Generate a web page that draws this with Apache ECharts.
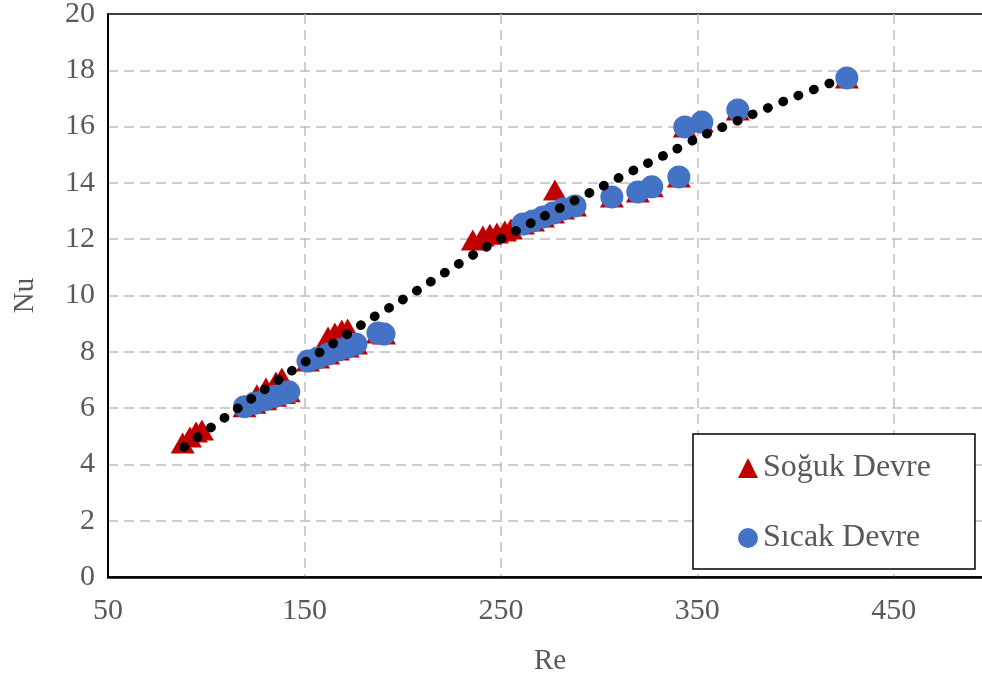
<!DOCTYPE html>
<html>
<head>
<meta charset="utf-8">
<script src="https://cdn.jsdelivr.net/npm/echarts@6/dist/echarts.min.js"></script>
<style>
  html, body { margin: 0; padding: 0; background: #fff; }
  #chart { width: 982px; height: 681px; }
</style>
</head>
<body>
<div id="chart"></div>
<script>
// Soğuk Devre (cold circuit) measurements
const coldRe = [88, 91.7, 94.8, 97.8, 125.8, 130.4, 135.5, 138.5, 162, 165.5, 169, 172,
  235.7, 240.8, 244.4, 248, 252, 255.1, 277.5,
  119.5, 124.5, 130, 135, 139.5, 142, 151.8, 156.9, 162, 167, 172, 176.2, 187.4, 190.5,
  261.2, 266.3, 271.4, 276.5, 281.6, 287.7, 306.5, 319.7, 326.8, 340.6, 343.6, 352.3, 370.6, 426.1];
const coldNu = [4.76, 4.97, 5.15, 5.22, 6.47, 6.71, 6.93, 7.07, 8.53, 8.67, 8.77, 8.81,
  11.97, 12.11, 12.18, 12.22, 12.29, 12.36, 13.75,
  6.05, 6.17, 6.3, 6.42, 6.52, 6.58, 7.67, 7.78, 7.92, 8.06, 8.17, 8.28, 8.67, 8.63,
  12.54, 12.65, 12.79, 12.93, 13.07, 13.18, 13.5, 13.68, 13.86, 14.21, 15.99, 16.16, 16.59, 17.73];

// Sıcak Devre (hot circuit) measurements
const hotRe = [119.5, 124.5, 130, 135, 139.5, 142, 151.8, 156.9, 162, 167, 172, 176.2, 187.4, 190.5,
  261.2, 266.3, 271.4, 276.5, 281.6, 287.7, 306.5, 319.7, 326.8, 340.6, 343.6, 352.3, 370.6, 426.1];
const hotNu = [6.05, 6.17, 6.3, 6.42, 6.52, 6.58, 7.67, 7.78, 7.92, 8.06, 8.17, 8.28, 8.67, 8.63,
  12.54, 12.65, 12.79, 12.93, 13.07, 13.18, 13.5, 13.68, 13.86, 14.21, 15.99, 16.16, 16.59, 17.73];

// Trend curve through all measurements
const trendRe = [88.7, 115.6, 142.6, 163.5, 184.4, 198.1, 240.8, 269.3, 298.9, 320.7, 335.5, 350.3, 372.6, 395.5, 419.0];
const trendNu = [4.62, 5.97, 7.28, 8.24, 9.20, 9.77, 11.65, 12.72, 13.78, 14.56, 15.06, 15.60, 16.27, 16.94, 17.58];

const seriesNames = ['Soğuk Devre', 'Sıcak Devre'];
const xTitle = 'Re';
const yTitle = 'Nu';

const zip = (a, b) => a.map((v, i) => [v, b[i]]);
const FONT = 'Liberation Serif';
const TXT = '#595959';
const GRID_LINE = { show: true, showMinLine: false, showMaxLine: false,
  lineStyle: { color: '#bfbfbf', width: 1.5, type: [10, 6] } };

const chart = echarts.init(document.getElementById('chart'), null, { renderer: 'canvas' });
chart.setOption({
  animation: false,
  backgroundColor: '#ffffff',
  grid: {
    left: 108, top: 14, bottom: 104, right: -10,
    outerBoundsMode: 'none', containLabel: false,
    show: true, borderColor: '#000', borderWidth: 1.5, backgroundColor: 'transparent'
  },
  xAxis: {
    type: 'value', min: 50, max: 500, interval: 100,
    name: xTitle, nameLocation: 'middle', nameGap: 70,
    nameTextStyle: { fontFamily: FONT, fontSize: 29, color: TXT },
    axisLine: { show: true, onZero: false, lineStyle: { color: '#000', width: 2.5 } },
    axisTick: { show: false },
    axisLabel: { fontFamily: FONT, fontSize: 30, color: TXT, margin: 19, showMaxLabel: false },
    splitLine: GRID_LINE
  },
  yAxis: {
    type: 'value', min: 0, max: 20, interval: 2,
    name: yTitle, nameLocation: 'middle', nameGap: 68,
    nameTextStyle: { fontFamily: FONT, fontSize: 29, color: TXT },
    axisLine: { show: true, lineStyle: { color: '#000', width: 2 } },
    axisTick: { show: false },
    axisLabel: { fontFamily: FONT, fontSize: 30, color: TXT, margin: 13 },
    splitLine: GRID_LINE
  },
  legend: {
    orient: 'vertical',
    left: 693, top: 434,
    padding: [18, 44, 15, 45],
    itemGap: 38,
    itemWidth: 20, itemHeight: 20,
    borderColor: '#000', borderWidth: 1.5, backgroundColor: '#fff',
    textStyle: { fontFamily: FONT, fontSize: 32, color: TXT },
    data: [
      { name: seriesNames[0], icon: 'triangle' },
      { name: seriesNames[1], icon: 'circle' }
    ]
  },
  series: [
    {
      name: seriesNames[0], type: 'scatter', symbol: 'triangle', symbolSize: [24, 21],
      itemStyle: { color: '#C00000', opacity: 1 }, z: 2,
      data: zip(coldRe, coldNu)
    },
    {
      name: seriesNames[1], type: 'scatter', symbol: 'circle', symbolSize: 23,
      itemStyle: { color: '#4472C4', opacity: 1 }, z: 3,
      data: zip(hotRe, hotNu)
    },
    {
      name: 'trend', type: 'line', showSymbol: false, symbol: 'none', z: 4,
      smooth: 0.3,
      lineStyle: { color: '#000', width: 9.5, type: [0.5, 16], cap: 'round' },
      data: zip(trendRe, trendNu),
      silent: true
    }
  ]
});
</script>
</body>
</html>
